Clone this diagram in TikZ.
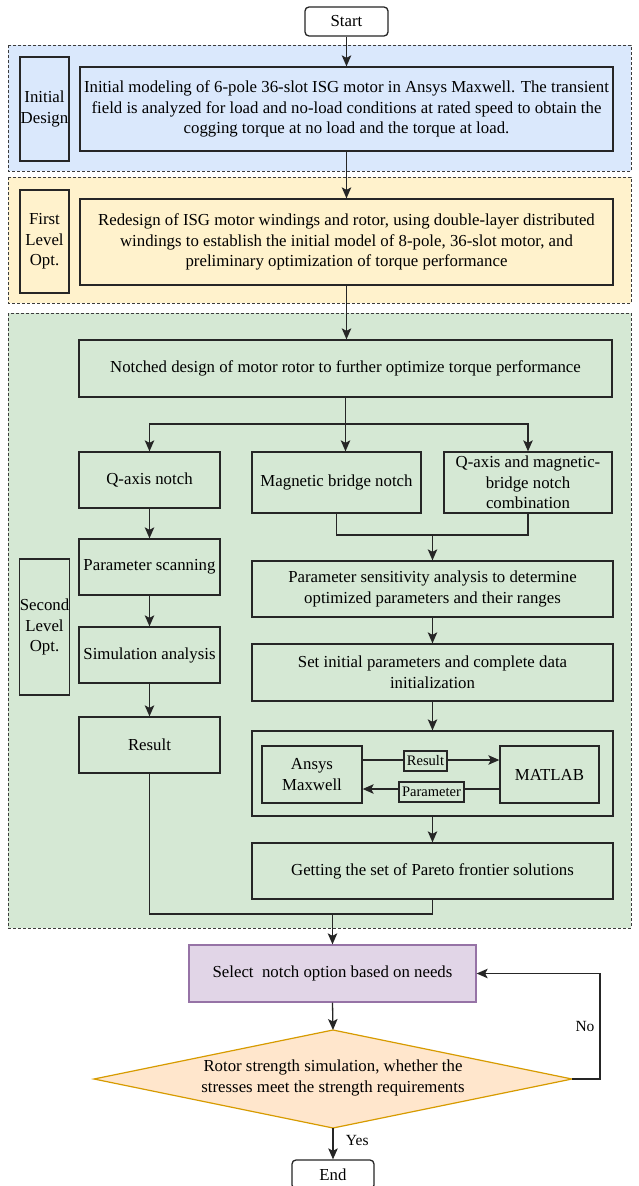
\documentclass[tikz,border=0pt]{standalone}
\usepackage{fontspec}
\setmainfont{Liberation Serif}
\usetikzlibrary{arrows.meta}
\definecolor{bluefill}{HTML}{DAE8FC}
\definecolor{yellowfill}{HTML}{FFF2CC}
\definecolor{greenfill}{HTML}{D5E8D4}
\definecolor{purplefill}{HTML}{E1D5E7}
\definecolor{purpleline}{HTML}{9673A6}
\definecolor{orangefill}{HTML}{FFE6CC}
\definecolor{orangeline}{HTML}{D79B00}
\definecolor{ink}{HTML}{262626}
\begin{document}
\begin{tikzpicture}[x=1pt,y=-1pt,
  font=\fontsize{16.8}{20.7}\selectfont,
  box/.style={draw=ink, line width=1.3pt, align=center, inner sep=1pt},
  region/.style={draw=ink!90, line width=0.9pt, dash pattern=on 3pt off 2pt},
  arr/.style={draw=ink, line width=1.3pt, -{Stealth[length=11pt,width=9.5pt,inset=2.5pt]}},
  plain/.style={draw=ink, line width=1.3pt},
  tag/.style={box, fill=greenfill, inner sep=1pt, font=\fontsize{14.5}{16}\selectfont},
  small/.style={font=\fontsize{15.5}{17}\selectfont}
]
\useasboundingbox (0,0) rectangle (638,1186);
\fill[white] (0,0) rectangle (638,1186);

% regions
\draw[region, fill=bluefill] (8,45) rectangle (631,171);
\draw[region, fill=yellowfill] (8,177) rectangle (631,303);
\draw[region, fill=greenfill] (8,313) rectangle (631,928);

% start
\node[box, rounded corners=4pt, fill=white, minimum width=83pt, minimum height=29pt] (start) at (346.5,21.5) {Start};

% initial design
\node[box, minimum width=49pt, minimum height=104pt, inner sep=0pt] (initlab) at (44.5,109) {Initial\\Design};
\node[box, minimum width=533pt, minimum height=84pt] (init) at (346.5,109)
 {Initial modeling of 6-pole 36-slot ISG motor in Ansys Maxwell. The transient\\field is analyzed for load and no-load conditions at rated speed to obtain the\\cogging torque at no load and the torque at load.};

% first level
\node[box, minimum width=49pt, minimum height=103pt, inner sep=0pt] (firstlab) at (44.5,241.5) {First\\Level\\Opt.};
\node[box, minimum width=533pt, minimum height=86pt] (first) at (346.5,242)
 {Redesign of ISG motor windings and rotor, using double-layer distributed\\windings to establish the initial model of 8-pole, 36-slot motor, and\\preliminary optimization of torque performance};

% second level
\node[box, minimum width=533pt, minimum height=57pt] (notch) at (345.5,368.5)
 {Notched design of motor rotor to further optimize torque performance};
\node[box, minimum width=141pt, minimum height=56pt] (qaxis) at (149.5,480) {Q-axis notch};
\node[box, minimum width=169pt, minimum height=61pt] (magbridge) at (336.5,482.5) {Magnetic bridge notch};
\node[box, minimum width=168pt, minimum height=61pt, inner sep=0pt] (combo) at (528,482.5) {Q-axis and magnetic-\\bridge notch\\combination};
\node[box, minimum width=141pt, minimum height=56pt] (pscan) at (149.5,567) {Parameter scanning};
\node[box, minimum width=49pt, minimum height=136pt, inner sep=0pt] (secondlab) at (44.5,627) {Second\\Level\\Opt.};
\node[box, minimum width=141pt, minimum height=56pt] (simul) at (149.5,655) {Simulation analysis};
\node[box, minimum width=141pt, minimum height=56pt] (result) at (149.5,745) {Result};
\node[box, minimum width=361pt, minimum height=56pt] (sens) at (432.5,589)
 {Parameter sensitivity analysis to determine\\optimized parameters and their ranges};
\node[box, minimum width=361pt, minimum height=57pt] (setinit) at (432.5,672.5)
 {Set initial parameters and complete data\\initialization};
\node[box, minimum width=361pt, minimum height=85pt] (container) at (432.5,773.5) {};
\node[box, minimum width=100pt, minimum height=57pt] (ansys) at (312,774.5) {Ansys\\Maxwell};
\node[box, minimum width=99pt, minimum height=57pt] (matlab) at (549.5,774.5) {MATLAB};
\node[box, minimum width=361pt, minimum height=56pt] (pareto) at (432.5,871)
 {Getting the set of Pareto frontier solutions};

% inner exchange
\draw[arr] ([yshift=14.5pt]ansys.east) -- ([yshift=14.5pt]ansys.east -| matlab.west);
\draw[arr] ([yshift=-14.5pt]matlab.west) -- ([yshift=-14.5pt]matlab.west -| ansys.east);
\node[tag, minimum width=43pt, minimum height=20pt] (reslab) at (425.5,761) {Result};
\node[tag, minimum width=65pt, minimum height=20pt] (parlab) at (431.5,792) {Parameter};

% select and decision
\node[box, draw=purpleline, fill=purplefill, minimum width=287pt, minimum height=57pt] (select) at (332.5,973.5)
 {Select\ \ notch option based on needs};
\coordinate (dtop) at (333,1030);
\coordinate (dbot) at (333,1128);
\coordinate (dleft) at (94,1079);
\coordinate (dright) at (572,1079);
\draw[fill=orangefill, draw=orangeline, line width=1.2pt] (dtop) -- (dright) -- (dbot) -- (dleft) -- cycle;
\node[align=center] (dia) at (333,1078)
 {Rotor strength simulation, whether the\\stresses meet the strength requirements};
\node[box, rounded corners=4pt, fill=white, minimum width=82pt, minimum height=29pt] (end) at (333,1174.5) {End};

% connectors
\draw[arr] (start) -- (init);
\draw[arr] (init) -- (first.north -| init);
\draw[arr] (first.south) -- (first.south |- notch.north);
\coordinate (br) at (346,424);
\draw[arr] (notch.south) -- (notch.south |- magbridge.north);
\draw[arr] (br) -| (qaxis.north);
\draw[arr] (br) -| (combo.north);
\draw[arr] (qaxis) -- (pscan);
\draw[arr] (pscan) -- (simul);
\draw[arr] (simul) -- (result);
\coordinate (m1) at (432.5,535);
\draw[plain] (magbridge.south) -- (magbridge.south |- m1) -- (combo.south |- m1) -- (combo.south);
\draw[arr] (m1) -- (sens.north);
\draw[arr] (sens) -- (setinit);
\draw[arr] (setinit) -- (container);
\draw[arr] (container) -- (pareto);
\coordinate (m2) at (332.5,914);
\draw[plain] (result.south) -- (result.south |- m2) -- (pareto.south |- m2) -- (pareto.south);
\draw[arr] (m2) -- (select.north);
\draw[arr] (select.south) -- (dtop);
\draw[arr] (dbot) -- (end.north) node[small, pos=0.4, anchor=west, xshift=9pt] (yes) {Yes};
\draw[arr] (dright) -- ++(28,0) |- (select.east);
\node[small] (no) at (585,1026) {No};
\end{tikzpicture}
\end{document}
